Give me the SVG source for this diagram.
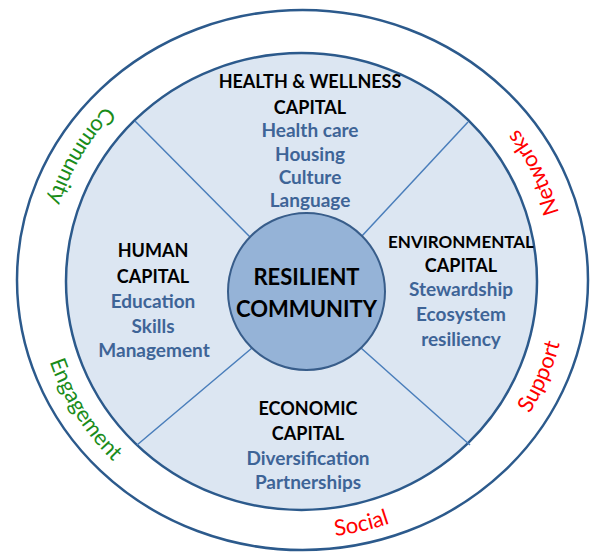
<svg xmlns="http://www.w3.org/2000/svg" width="590" height="555" viewBox="0 0 590 555">
<style>
.ring{fill:none;stroke:#2c5a8c;stroke-width:2.5}
.title{font-family:Lato,"Open Sans",sans-serif;font-weight:bold;font-size:18px;fill:#000;text-anchor:middle}
.item{font-family:Lato,"Open Sans",sans-serif;font-weight:bold;font-size:19px;fill:#3e6497;text-anchor:middle}
.core{font-family:Lato,"Open Sans",sans-serif;font-weight:bold;font-size:22px;fill:#000;text-anchor:middle}
.lab{font-family:Lato,"Open Sans",sans-serif;font-size:22px;text-anchor:middle}
.g{fill:#1a8c1a}
.r{fill:#ff0000}
.div{stroke:#4a7ebb;stroke-width:1.5;fill:none}
</style>
<defs>
<path id="pCommunity" d="M149.4,68.6 A266,258 0 0 0 37.0,257.5"/>
<path id="pNetworks" d="M568,278.2 A266,258 0 0 0 471.5,81.2"/>
<path id="pSupport" d="M481.4,470.5 A266,258 0 0 0 567.8,269.2"/>
<path id="pSocial" d="M248.1,532.6 A266,258 0 0 0 466.9,482.5"/>
<path id="pEngagement" d="M37.7,309.2 A266,258 0 0 0 155.2,495.1"/>
</defs>
<rect width="590" height="555" fill="#fff"/>
<g id="outer-ring">
<ellipse class="ring" cx="302.5" cy="280" rx="285.5" ry="270"/>
<text class="lab g"><textPath href="#pCommunity" startOffset="50%">Community</textPath></text>
<text class="lab r"><textPath href="#pNetworks" startOffset="50%">Networks</textPath></text>
<text class="lab r"><textPath href="#pSupport" startOffset="50%">Support</textPath></text>
<text class="lab r"><textPath href="#pSocial" startOffset="50%">Social</textPath></text>
<text class="lab g"><textPath href="#pEngagement" startOffset="50%">Engagement</textPath></text>
</g>
<g id="inner-disc">
<ellipse cx="301.5" cy="281.5" rx="235.5" ry="228.5" fill="#dce6f2" stroke="#2c5a8c" stroke-width="2.5"/>
</g>
<g id="connectors">
<line class="div" x1="135" y1="121" x2="252" y2="239"/>
<line class="div" x1="468" y1="122" x2="361" y2="237"/>
<line class="div" x1="137" y1="445" x2="252" y2="348"/>
<line class="div" x1="470" y1="445" x2="361" y2="348"/>
</g>
<g id="health">
<text class="title" x="310" y="88">HEALTH &amp; WELLNESS</text>
<text class="title" x="310" y="114">CAPITAL</text>
<text class="item" x="310" y="137">Health care</text>
<text class="item" x="310" y="161">Housing</text>
<text class="item" x="310" y="184">Culture</text>
<text class="item" x="310" y="207">Language</text>
</g>
<g id="human">
<text class="title" x="153" y="257">HUMAN</text>
<text class="title" x="153" y="283">CAPITAL</text>
<text class="item" x="153" y="308">Education</text>
<text class="item" x="153" y="333">Skills</text>
<text class="item" x="154" y="357">Management</text>
</g>
<g id="environmental">
<text class="title" x="461" y="248" style="font-size:17px">ENVIRONMENTAL</text>
<text class="title" x="461" y="272">CAPITAL</text>
<text class="item" x="461" y="296">Stewardship</text>
<text class="item" x="461" y="321">Ecosystem</text>
<text class="item" x="461" y="346">resiliency</text>
</g>
<g id="economic">
<text class="title" x="308" y="415">ECONOMIC</text>
<text class="title" x="308" y="440">CAPITAL</text>
<text class="item" x="308" y="465">Diversification</text>
<text class="item" x="308" y="489">Partnerships</text>
</g>
<g id="resilient">
<circle cx="306.5" cy="291.5" r="78.5" fill="#95b3d7" stroke="#385d8a" stroke-width="2"/>
<text class="core" x="306.5" y="285">RESILIENT</text>
<text class="core" x="306.5" y="317">COMMUNITY</text>
</g>
</svg>
